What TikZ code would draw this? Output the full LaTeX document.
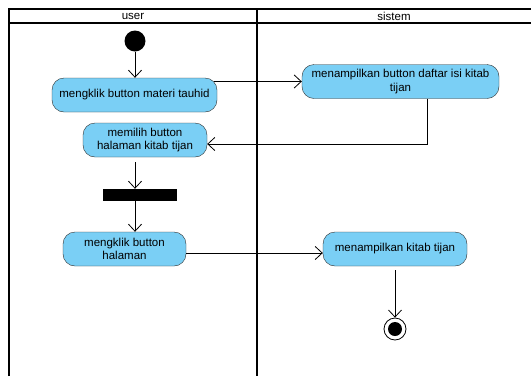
\documentclass[tikz,border=0pt]{standalone}
\usepackage{fontspec}
\setmainfont{Liberation Sans}
\usetikzlibrary{arrows.meta}
\definecolor{actblue}{RGB}{122,207,245}
\definecolor{actline}{RGB}{45,45,45}

\begin{document}
\begin{tikzpicture}[x=1pt,y=-1pt,>={Straight Barb[length=7pt,width=13pt]}]
    \tikzstyle{every node}=[font=\fontsize{11.5}{13.5}\selectfont]
    \tikzstyle{activity}=[draw=actline,fill=actblue,rounded corners=12pt,
      align=center,minimum height=34pt,inner sep=2pt]
    \tikzstyle{lane}=[line width=2.4pt]
    \tikzstyle{flow}=[->,line width=0.8pt]

    \useasboundingbox (0,0) rectangle (531,376);

    \draw[lane] (9,376) -- (9,9) -- (531,9);
    \draw[lane] (9,23) -- (531,23);
    \draw[lane] (257,9) -- (257,376);
    \node (user) at (133,16) {user};
    \node (sistem) at (394,16) {sistem};

    \node[circle,fill=black,minimum size=21pt,inner sep=0pt] (start) at (135,41) {};

    \node[activity,minimum width=165pt] (klikmateri) at (134.5,95)
    {mengklik button materi tauhid};

    \node[activity,minimum width=124pt] (pilihhalaman) at (145,140)
    {memilih button\\halaman kitab tijan};

    \node[fill=black,minimum width=74pt,minimum height=12pt,inner sep=0pt]
    (fork) at (140,195) {};

    \node[activity,minimum width=123pt] (klikhalaman) at (124.5,249)
    {mengklik button\\halaman};

    \node[activity,minimum width=197pt] (tampildaftar) at (400.5,81.5)
    {menampilkan button daftar isi kitab\\tijan};

    \node[activity,minimum width=144pt] (tampilkitab) at (395,249)
    {menampilkan kitab tijan};

    \node[circle,draw,line width=0.8pt,minimum size=22pt,inner sep=0pt]
    (stop) at (395,329) {};
    \node[circle,fill=black,minimum size=14pt,inner sep=0pt] (stopdot) at (stop) {};

    \draw[flow] (start.south) -- (start.south |- klikmateri.north);
    \coordinate (a1) at ([xshift=-3pt]klikmateri.east);
    \draw[flow] (a1 |- tampildaftar.west) -- (tampildaftar.west);
    \draw[flow] ([xshift=26.5pt]tampildaftar.south) |- ([yshift=-4pt]pilihhalaman.east);
    \draw[flow,shorten <=5pt] (pilihhalaman.south -| start) -- (fork.north -| start);
    \draw[flow] (fork.south -| start) -- (klikhalaman.north -| start);
    \draw[flow] ([yshift=-4pt]klikhalaman.east) -- ([yshift=-4pt]tampilkitab.west);
    \draw[flow,shorten <=4pt] (tampilkitab.south) -- (stop.north);
\end{tikzpicture}
\end{document}
